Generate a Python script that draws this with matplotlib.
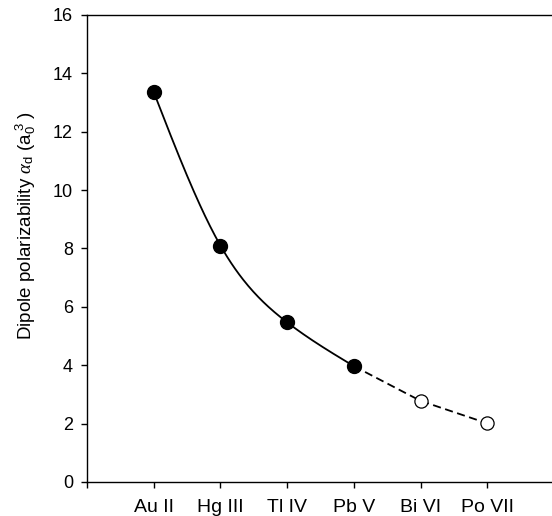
import numpy as np
import matplotlib
matplotlib.use("Agg")
import matplotlib.pyplot as plt

plt.rcParams['font.family'] = ['Liberation Sans', 'DejaVu Sans']
plt.rcParams['mathtext.fontset'] = 'custom'
plt.rcParams['mathtext.rm'] = 'Liberation Sans'
plt.rcParams['mathtext.it'] = 'Liberation Serif:italic'

# data
ions = ["Au II", "Hg III", "Tl IV", "Pb V", "Bi VI", "Po VII"]
alpha_calc = [13.36, 8.1, 5.47, 3.97]      # filled points
alpha_extrap = [2.78, 2.01]                # open points


def natural_spline(x, y, n=200):
    # plain natural cubic spline, used only to draw the smooth line
    x = np.asarray(x, float)
    y = np.asarray(y, float)
    k = len(x)
    h = np.diff(x)
    A = np.zeros((k, k))
    r = np.zeros(k)
    A[0, 0] = A[-1, -1] = 1
    for i in range(1, k - 1):
        A[i, i - 1] = h[i - 1]
        A[i, i] = 2 * (h[i - 1] + h[i])
        A[i, i + 1] = h[i]
        r[i] = 6 * ((y[i + 1] - y[i]) / h[i] - (y[i] - y[i - 1]) / h[i - 1])
    M = np.linalg.solve(A, r)
    xs = np.linspace(x[0], x[-1], n)
    j = np.clip(np.searchsorted(x, xs) - 1, 0, k - 2)
    t0 = x[j + 1] - xs
    t1 = xs - x[j]
    ys = (M[j] * t0**3 + M[j + 1] * t1**3) / (6 * h[j]) \
        + (y[j] / h[j] - M[j] * h[j] / 6) * t0 \
        + (y[j + 1] / h[j] - M[j + 1] * h[j] / 6) * t1
    return xs, ys


pos = np.arange(1, len(ions) + 1)
n_calc = len(alpha_calc)

fig = plt.figure(figsize=(5.52, 5.16), dpi=100)
ax = fig.add_axes([87 / 552, 34 / 516, 467 / 552, 467 / 516])

xs, ys = natural_spline(pos[:n_calc], alpha_calc)
ax.plot(xs, ys, color="black", lw=1.3, zorder=2)
ax.plot(pos[n_calc - 1:], [alpha_calc[-1]] + alpha_extrap, color="black",
        lw=1.3, ls=(0, (4.5, 2.5)), zorder=2)
ax.plot(pos[:n_calc], alpha_calc, "o", ms=10, color="black", zorder=3)
ax.plot(pos[n_calc:], alpha_extrap, "o", ms=9.5, mfc="white", mec="black",
        mew=0.9, zorder=3)

ax.set_xlim(0, 7)
ax.set_ylim(0, 16)
ax.set_xticks(np.arange(0, 8))
ax.set_xticklabels([""] + ions + [""])
ax.set_yticks(np.arange(0, 17, 2))
for s in ax.spines.values():
    s.set_linewidth(1.0)
ax.tick_params(axis="x", direction="out", length=4, width=1, labelsize=14, pad=8)
ax.tick_params(axis="y", direction="out", length=4, width=1, labelsize=13, pad=6)
ax.set_ylabel(r"Dipole polarizability $\alpha_{\mathrm{d}}$ (a$_{\mathrm{0}}^{\;\mathrm{3}}$ )",
              fontsize=13.5)
ax.yaxis.set_label_coords(-0.104, 0.55)

fig.savefig("out.png", dpi=100)
plt.close(fig)
